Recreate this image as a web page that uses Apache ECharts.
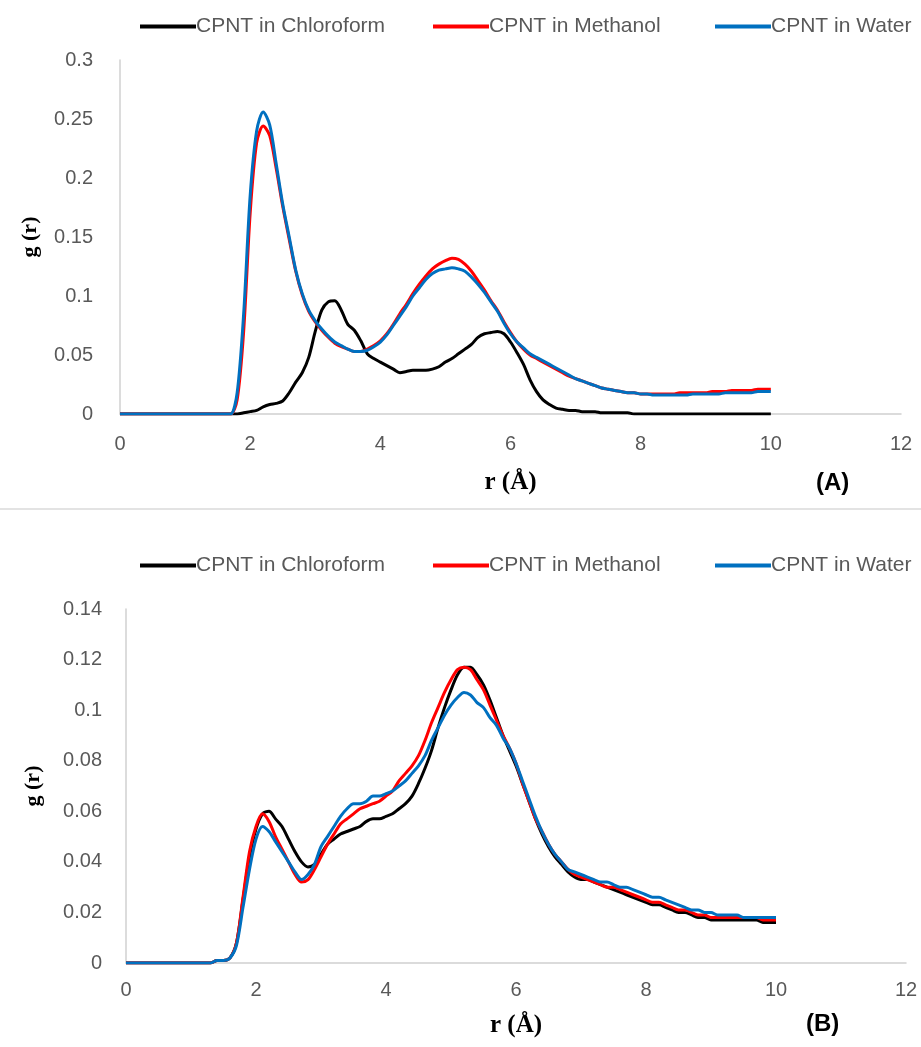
<!DOCTYPE html>
<html>
<head>
<meta charset="utf-8">
<script src="https://cdn.jsdelivr.net/npm/echarts@6/dist/echarts.min.js"></script>
<style>
  html, body { margin: 0; padding: 0; background: #fff; }
  #chartA { width: 921px; height: 508px; }
  #sep { width: 921px; height: 2px; background: #e3e3e3; }
  #chartB { width: 921px; height: 537px; }
</style>
</head>
<body>
<div id="chartA"></div>
<div id="sep"></div>
<div id="chartB"></div>
<script>
// r values (Å), step 0.1 from 0 to 10
const rValues = [
  0.0,0.1,0.2,0.3,0.4,0.5,0.6,0.7,0.8,0.9,
  1.0,1.1,1.2,1.3,1.4,1.5,1.6,1.7,1.8,1.9,
  2.0,2.1,2.2,2.3,2.4,2.5,2.6,2.7,2.8,2.9,
  3.0,3.1,3.2,3.3,3.4,3.5,3.6,3.7,3.8,3.9,
  4.0,4.1,4.2,4.3,4.4,4.5,4.6,4.7,4.8,4.9,
  5.0,5.1,5.2,5.3,5.4,5.5,5.6,5.7,5.8,5.9,
  6.0,6.1,6.2,6.3,6.4,6.5,6.6,6.7,6.8,6.9,
  7.0,7.1,7.2,7.3,7.4,7.5,7.6,7.7,7.8,7.9,
  8.0,8.1,8.2,8.3,8.4,8.5,8.6,8.7,8.8,8.9,
  9.0,9.1,9.2,9.3,9.4,9.5,9.6,9.7,9.8,9.9,
  10.0
];

const seriesNames = ['CPNT in Chloroform', 'CPNT in Methanol', 'CPNT in Water'];
const seriesColors = ['#000000', '#ff0000', '#0070c0'];

const xTicks = [0, 2, 4, 6, 8, 10, 12];
const yTicksA = [0, 0.05, 0.1, 0.15, 0.2, 0.25, 0.3];
const yTicksB = [0, 0.02, 0.04, 0.06, 0.08, 0.1, 0.12, 0.14];

// ---- panel (A) ----
const chloroformA = [
  0,0,0,0,0,0,0,0,0,0,
  0,0,0,0,0,0,0,0,0.000,0.001,
  0.002,0.003,0.006,0.008,0.009,0.011,0.018,0.027,0.035,0.048,
  0.070,0.088,0.095,0.096,0.088,0.076,0.071,0.062,0.051,0.047,
  0.044,0.041,0.038,0.035,0.036,0.037,0.037,0.037,0.038,0.040,
  0.044,0.047,0.051,0.055,0.059,0.065,0.068,0.069,0.070,0.068,
  0.061,0.052,0.042,0.029,0.019,0.012,0.008,0.005,0.004,0.003,
  0.003,0.002,0.002,0.002,0.001,0.001,0.001,0.001,0.001,0.000,
  0,0,0,0,0,0,0,0,0,0,
  0,0,0,0,0,0,0,0,0,0,
  0
];
const methanolA = [
  0,0,0,0,0,0,0,0,0,0,
  0,0,0,0,0,0,0,0.000,0.012,0.070,
  0.170,0.230,0.244,0.236,0.208,0.176,0.148,0.121,0.101,0.087,
  0.078,0.071,0.065,0.060,0.057,0.055,0.053,0.053,0.055,0.058,
  0.062,0.068,0.076,0.085,0.093,0.102,0.110,0.117,0.123,0.127,
  0.130,0.132,0.131,0.127,0.121,0.113,0.105,0.096,0.088,0.078,
  0.069,0.061,0.055,0.050,0.047,0.044,0.041,0.038,0.035,0.032,
  0.030,0.028,0.026,0.024,0.022,0.021,0.020,0.019,0.018,0.018,
  0.017,0.017,0.017,0.017,0.017,0.017,0.018,0.018,0.018,0.018,
  0.018,0.019,0.019,0.019,0.020,0.020,0.020,0.020,0.021,0.021,
  0.021
];
const waterA = [
  0,0,0,0,0,0,0,0,0,0,
  0,0,0,0,0,0,0,0.000,0.018,0.085,
  0.185,0.240,0.256,0.245,0.212,0.178,0.150,0.122,0.102,0.088,
  0.079,0.072,0.066,0.061,0.058,0.055,0.053,0.053,0.054,0.057,
  0.061,0.067,0.075,0.083,0.091,0.100,0.107,0.114,0.119,0.122,
  0.123,0.124,0.123,0.121,0.116,0.110,0.103,0.095,0.087,0.077,
  0.068,0.061,0.056,0.051,0.048,0.045,0.042,0.039,0.036,0.033,
  0.030,0.028,0.026,0.024,0.022,0.021,0.020,0.019,0.018,0.018,
  0.017,0.017,0.016,0.016,0.016,0.016,0.016,0.016,0.017,0.017,
  0.017,0.017,0.017,0.018,0.018,0.018,0.018,0.018,0.019,0.019,
  0.019
];

// ---- panel (B) ----
const chloroformB = [
  0,0,0,0,0,0,0,0,0,0,
  0,0,0,0,0.001,0.001,0.002,0.008,0.025,0.042,
  0.053,0.059,0.060,0.057,0.054,0.049,0.044,0.040,0.038,0.039,
  0.043,0.047,0.049,0.051,0.052,0.053,0.054,0.056,0.057,0.057,
  0.058,0.059,0.061,0.063,0.066,0.071,0.077,0.084,0.093,0.101,
  0.108,0.114,0.117,0.117,0.114,0.110,0.104,0.097,0.090,0.084,
  0.078,0.071,0.064,0.057,0.051,0.046,0.042,0.039,0.036,0.034,
  0.033,0.033,0.032,0.031,0.030,0.029,0.028,0.027,0.026,0.025,
  0.024,0.023,0.023,0.022,0.021,0.020,0.020,0.019,0.018,0.018,
  0.017,0.017,0.017,0.017,0.017,0.017,0.017,0.017,0.016,0.016,
  0.016
];
const methanolB = [
  0,0,0,0,0,0,0,0,0,0,
  0,0,0,0,0.001,0.001,0.002,0.008,0.026,0.044,
  0.054,0.059,0.056,0.050,0.045,0.040,0.035,0.032,0.033,0.037,
  0.042,0.047,0.051,0.055,0.057,0.059,0.061,0.062,0.063,0.064,
  0.066,0.068,0.072,0.075,0.078,0.082,0.088,0.095,0.101,0.107,
  0.112,0.116,0.117,0.116,0.112,0.108,0.102,0.096,0.090,0.085,
  0.079,0.071,0.064,0.057,0.052,0.047,0.043,0.040,0.037,0.035,
  0.034,0.033,0.032,0.031,0.030,0.030,0.029,0.028,0.027,0.026,
  0.025,0.024,0.024,0.023,0.022,0.021,0.021,0.020,0.019,0.019,
  0.018,0.018,0.018,0.018,0.018,0.018,0.018,0.018,0.017,0.017,
  0.017
];
const waterB = [
  0,0,0,0,0,0,0,0,0,0,
  0,0,0,0,0.001,0.001,0.002,0.007,0.022,0.037,
  0.049,0.054,0.052,0.048,0.044,0.040,0.036,0.033,0.035,0.039,
  0.046,0.050,0.054,0.058,0.061,0.063,0.063,0.064,0.066,0.066,
  0.067,0.068,0.070,0.072,0.075,0.078,0.082,0.088,0.093,0.098,
  0.102,0.105,0.107,0.106,0.103,0.101,0.097,0.094,0.089,0.085,
  0.079,0.072,0.065,0.058,0.052,0.047,0.043,0.040,0.037,0.036,
  0.035,0.034,0.033,0.032,0.032,0.031,0.030,0.030,0.029,0.028,
  0.027,0.026,0.026,0.025,0.024,0.023,0.022,0.021,0.021,0.020,
  0.020,0.019,0.019,0.019,0.019,0.018,0.018,0.018,0.018,0.018,
  0.018
];

const labelFont = '"Liberation Sans Narrow", "Liberation Sans", sans-serif';
const serifFont = '"Liberation Serif", "DejaVu Serif", serif';
const legendLefts = [135, 428, 710];

function buildOption(cfg) {
  const yTicks = cfg.yTicks;
  return {
    animation: false,
    // one legend per item so each can sit where the original put it
    legend: seriesNames.map((name, i) => ({
      top: cfg.legendTop,
      left: legendLefts[i],
      itemWidth: 56,
      itemHeight: 4,
      itemGap: 0,
      icon: 'rect',
      data: [name],
      textStyle: { color: '#595959', fontSize: 21, fontFamily: labelFont, padding: [0, 0, 0, -5] }
    })),
    grid: cfg.grid,
    xAxis: {
      type: 'value',
      min: xTicks[0],
      max: xTicks[xTicks.length - 1],
      interval: 2,
      name: 'r (Å)',
      nameLocation: 'middle',
      nameGap: cfg.xNameGap,
      nameTextStyle: { fontFamily: serifFont, fontWeight: 'bold', fontSize: 25, color: '#000' },
      axisLine: { lineStyle: { color: '#d0d0d0', width: 1.5 } },
      axisTick: { show: false },
      splitLine: { show: false },
      axisLabel: { color: '#595959', fontSize: 20, fontFamily: labelFont, margin: cfg.xLabelMargin }
    },
    yAxis: {
      type: 'value',
      min: yTicks[0],
      max: yTicks[yTicks.length - 1],
      interval: yTicks[1] - yTicks[0],
      name: 'g (r)',
      nameLocation: 'middle',
      nameGap: cfg.yNameGap,
      nameTextStyle: { fontFamily: serifFont, fontWeight: 'bold', fontSize: 22, color: '#000' },
      axisLine: { show: true, lineStyle: { color: '#d0d0d0', width: 1.5 } },
      axisTick: { show: false },
      splitLine: { show: false },
      axisLabel: { color: '#595959', fontSize: 20, fontFamily: labelFont, margin: cfg.yLabelMargin }
    },
    graphic: [{
      type: 'text',
      left: cfg.tagLeft,
      top: cfg.tagTop,
      style: { text: cfg.tag, font: 'bold 24px ' + labelFont, fill: '#000' }
    }],
    series: cfg.data.map((d, i) => ({
      name: seriesNames[i],
      type: 'line',
      showSymbol: false,
      smooth: 0.3,
      data: rValues.map((r, k) => [r, d[k]]),
      lineStyle: { color: seriesColors[i], width: 3 },
      itemStyle: { color: seriesColors[i] }
    }))
  };
}

const chartA = echarts.init(document.getElementById('chartA'));
chartA.setOption(buildOption({
  yTicks: yTicksA,
  legendTop: 11,
  grid: { left: 120, right: 20, top: 60, bottom: 94 },
  xNameGap: 56,
  yNameGap: 79,
  xLabelMargin: 20,
  yLabelMargin: 27,
  tag: '(A)',
  tagLeft: 816,
  tagTop: 471,
  data: [chloroformA, methanolA, waterA]
}));

const chartB = echarts.init(document.getElementById('chartB'));
chartB.setOption(buildOption({
  yTicks: yTicksB,
  legendTop: 40,
  grid: { left: 126, right: 15, top: 99, bottom: 84 },
  xNameGap: 50,
  yNameGap: 82,
  xLabelMargin: 17,
  yLabelMargin: 24,
  tag: '(B)',
  tagLeft: 806,
  tagTop: 502,
  data: [chloroformB, methanolB, waterB]
}));
</script>
</body>
</html>
